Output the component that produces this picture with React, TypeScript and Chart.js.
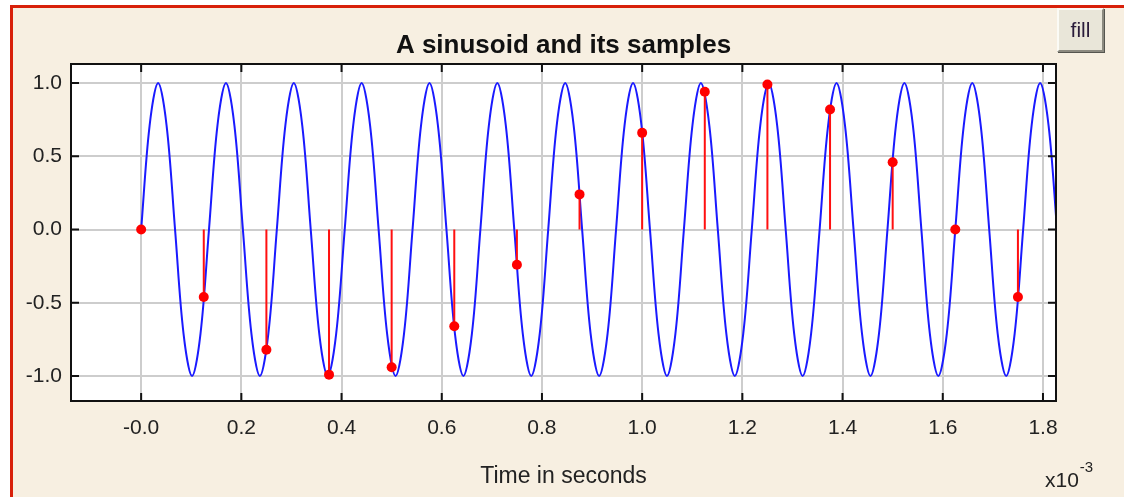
import React, { useEffect, useRef } from "react";
import { Chart, registerables } from "chart.js";

Chart.register(...registerables);

// Continuous sinusoid (time in ms), read every eighth of a period
const sineTimes = [
  0, 0.0169, 0.0339, 0.0508, 0.0677, 0.0846, 0.1016, 0.1185, 0.1354, 0.1523,
  0.1693, 0.1862, 0.2031, 0.2201, 0.237, 0.2539, 0.2708, 0.2878, 0.3047, 0.3216,
  0.3385, 0.3555, 0.3724, 0.3893, 0.4063, 0.4232, 0.4401, 0.457, 0.474, 0.4909,
  0.5078, 0.5247, 0.5417, 0.5586, 0.5755, 0.5924, 0.6094, 0.6263, 0.6432, 0.6602,
  0.6771, 0.694, 0.7109, 0.7279, 0.7448, 0.7617, 0.7786, 0.7956, 0.8125, 0.8294,
  0.8464, 0.8633, 0.8802, 0.8971, 0.9141, 0.931, 0.9479, 0.9648, 0.9818, 0.9987,
  1.0156, 1.0326, 1.0495, 1.0664, 1.0833, 1.1003, 1.1172, 1.1341, 1.151, 1.168,
  1.1849, 1.2018, 1.2188, 1.2357, 1.2526, 1.2695, 1.2865, 1.3034, 1.3203, 1.3372,
  1.3542, 1.3711, 1.388, 1.4049, 1.4219, 1.4388, 1.4557, 1.4727, 1.4896, 1.5065,
  1.5234, 1.5404, 1.5573, 1.5742, 1.5911, 1.6081, 1.625, 1.6419, 1.6589, 1.6758,
  1.6927, 1.7096, 1.7266, 1.7435, 1.7604, 1.7773, 1.7943, 1.8112, 1.8281, 1.8451,
  1.862,
];
const sineValues = [
  0, 0.71, 1, 0.71, 0, -0.71, -1, -0.71,
  0, 0.71, 1, 0.71, 0, -0.71, -1, -0.71,
  0, 0.71, 1, 0.71, 0, -0.71, -1, -0.71,
  0, 0.71, 1, 0.71, 0, -0.71, -1, -0.71,
  0, 0.71, 1, 0.71, 0, -0.71, -1, -0.71,
  0, 0.71, 1, 0.71, 0, -0.71, -1, -0.71,
  0, 0.71, 1, 0.71, 0, -0.71, -1, -0.71,
  0, 0.71, 1, 0.71, 0, -0.71, -1, -0.71,
  0, 0.71, 1, 0.71, 0, -0.71, -1, -0.71,
  0, 0.71, 1, 0.71, 0, -0.71, -1, -0.71,
  0, 0.71, 1, 0.71, 0, -0.71, -1, -0.71,
  0, 0.71, 1, 0.71, 0, -0.71, -1, -0.71,
  0, 0.71, 1, 0.71, 0, -0.71, -1, -0.71,
  0, 0.71, 1, 0.71, 0, -0.71, -1,
];

// Samples (time in ms)
const sampleTimes = [0, 0.125, 0.25, 0.375, 0.5, 0.625, 0.75, 0.875, 1.0, 1.125, 1.25, 1.375, 1.5, 1.625, 1.75];
const sampleValues = [0, -0.46, -0.82, -0.99, -0.94, -0.66, -0.24, 0.24, 0.66, 0.94, 0.99, 0.82, 0.46, 0, -0.46];

const xTickValues = [0, 0.2, 0.4, 0.6, 0.8, 1.0, 1.2, 1.4, 1.6, 1.8];
const xTickLabels = ["-0.0", "0.2", "0.4", "0.6", "0.8", "1.0", "1.2", "1.4", "1.6", "1.8"];
const yTickValues = [-1, -0.5, 0, 0.5, 1];
const yTickLabels = ["-1.0", "-0.5", "0.0", "0.5", "1.0"];

const FONT = "'Liberation Sans', Arial, sans-serif";

const framePlugin = {
  id: "frame",
  beforeDraw(chart: any) {
    const { ctx, chartArea: a } = chart;
    ctx.save();
    ctx.fillStyle = "#ffffff";
    ctx.fillRect(a.left, a.top, a.right - a.left, a.bottom - a.top);
    ctx.restore();
  },
  afterDraw(chart: any) {
    const { ctx, chartArea: a, scales } = chart;
    ctx.save();
    ctx.strokeStyle = "#111111";
    ctx.lineWidth = 2;
    ctx.beginPath();
    for (const v of xTickValues) {
      const p = scales.x.getPixelForValue(v);
      ctx.moveTo(p, a.top);
      ctx.lineTo(p, a.top + 8);
      ctx.moveTo(p, a.bottom);
      ctx.lineTo(p, a.bottom - 8);
    }
    for (const v of yTickValues) {
      const p = scales.y.getPixelForValue(v);
      ctx.moveTo(a.left, p);
      ctx.lineTo(a.left + 8, p);
      ctx.moveTo(a.right, p);
      ctx.lineTo(a.right - 8, p);
    }
    ctx.stroke();
    ctx.strokeRect(a.left, a.top, a.right - a.left, a.bottom - a.top);

    ctx.fillStyle = "#222222";
    ctx.textAlign = "left";
    ctx.textBaseline = "alphabetic";
    ctx.font = `21px ${FONT}`;
    const bx = a.right - 11;
    const by = a.bottom + 86;
    ctx.fillText("x10", bx, by);
    const w = ctx.measureText("x10").width;
    ctx.font = `15px ${FONT}`;
    ctx.fillText("-3", bx + w + 1, by - 15);
    ctx.restore();
  },
};

export default function App() {
  const canvasRef = useRef<HTMLCanvasElement | null>(null);

  useEffect(() => {
    if (!canvasRef.current) return;
    const stemData: any[] = [];
    sampleTimes.forEach((t, i) => {
      stemData.push({ x: t, y: 0 });
      stemData.push({ x: t, y: sampleValues[i] });
      stemData.push({ x: t, y: null });
    });

    const chart = new Chart(canvasRef.current, {
      type: "line",
      data: {
        datasets: [
          {
            label: "samples",
            data: sampleTimes.map((t, i) => ({ x: t, y: sampleValues[i] })),
            showLine: false,
            pointRadius: 5,
            pointBackgroundColor: "#ff0000",
            pointBorderColor: "#ff0000",
            pointBorderWidth: 0,
          },
          {
            label: "stems",
            data: stemData,
            borderColor: "#ff1010",
            borderWidth: 2,
            pointRadius: 0,
            tension: 0,
            spanGaps: false,
          },
          {
            label: "sinusoid",
            data: sineTimes.map((t, i) => ({ x: t, y: sineValues[i] })),
            borderColor: "#1a1aff",
            borderWidth: 2,
            pointRadius: 0,
            tension: 0.35,
          },
        ],
      },
      options: {
        animation: false,
        responsive: false,
        devicePixelRatio: 1,
        layout: { padding: { left: 0, right: 68, top: 0, bottom: 0 } },
        plugins: {
          legend: { display: false },
          tooltip: { enabled: false },
          title: {
            display: true,
            text: "A sinusoid and its samples",
            fullSize: false,
            color: "#111111",
            font: { family: FONT, size: 26, weight: "bold" },
            padding: { top: 30, bottom: 2.8 },
          },
        },
        scales: {
          x: {
            type: "linear",
            min: -0.14,
            max: 1.826,
            afterBuildTicks: (s: any) => {
              s.ticks = xTickValues.map((v) => ({ value: v }));
            },
            afterFit: (s: any) => {
              s.height = 96;
              s.paddingLeft = 0;
              s.paddingRight = 0;
            },
            grid: { color: "#cdcdcd", lineWidth: 2, drawTicks: false },
            border: { display: false },
            ticks: {
              callback: (_v: any, i: number) => xTickLabels[i],
              padding: 15,
              maxRotation: 0,
              autoSkip: false,
              color: "#222222",
              font: { family: FONT, size: 21 },
            },
            title: {
              display: true,
              text: "Time in seconds",
              color: "#222222",
              font: { family: FONT, size: 23 },
              padding: { top: 0, bottom: 7 },
            },
          },
          y: {
            type: "linear",
            min: -1.17,
            max: 1.13,
            afterBuildTicks: (s: any) => {
              s.ticks = yTickValues.map((v) => ({ value: v }));
            },
            afterFit: (s: any) => {
              s.width = 71;
              s.paddingTop = 0;
              s.paddingBottom = 0;
            },
            grid: { color: "#cdcdcd", lineWidth: 2, drawTicks: false },
            border: { display: false },
            ticks: {
              callback: (_v: any, i: number) => yTickLabels[i],
              padding: 9,
              autoSkip: false,
              color: "#222222",
              font: { family: FONT, size: 21 },
            },
          },
        },
      },
      plugins: [framePlugin],
    } as any);

    return () => chart.destroy();
  }, []);

  return (
    <div
      style={{
        position: "fixed",
        left: 0,
        top: 0,
        width: 1124,
        height: 497,
        background: "#ffffff",
        overflow: "hidden",
      }}
    >
      <div
        style={{
          position: "absolute",
          left: 10,
          top: 5,
          right: 0,
          bottom: 0,
          borderLeft: "3px solid #d8200a",
          borderTop: "3px solid #d8200a",
          background: "#f7efe1",
        }}
      />
      <canvas
        ref={canvasRef}
        width={1124}
        height={497}
        style={{ position: "absolute", left: 0, top: 0, width: 1124, height: 497 }}
      />
      <div
        style={{
          position: "absolute",
          left: 1057,
          top: 8,
          width: 43,
          height: 40,
          background: "#e9e6d9",
          borderTop: "2px solid #fbfbf6",
          borderLeft: "2px solid #fbfbf6",
          borderRight: "2px solid #8c8a80",
          borderBottom: "2px solid #8c8a80",
          boxShadow: "1px 1px 0 #55554f",
          display: "flex",
          alignItems: "center",
          justifyContent: "center",
          fontFamily: FONT,
          fontSize: 21,
          color: "#2a1c3a",
          boxSizing: "content-box",
        }}
      >
        fill
      </div>
    </div>
  );
}
